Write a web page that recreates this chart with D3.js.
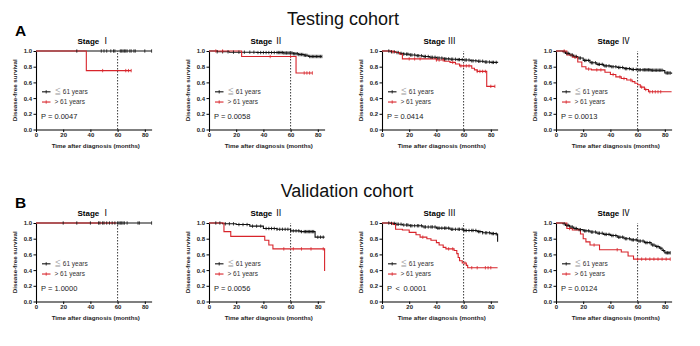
<!DOCTYPE html>
<html>
<head>
<meta charset="utf-8">
<script src="https://cdn.jsdelivr.net/npm/d3@7"></script>
<style>
  body { margin: 0; background: #fff; }
  svg { display: block; font-family: "Liberation Sans", Arial, sans-serif; }
</style>
</head>
<body>
<svg id="chart" width="700" height="346"></svg>
<script>
// ---- data ----
let cohorts = ["Testing cohort", "Validation cohort"];
let cohortLetters = ["A", "B"];
let stageNumerals = ["\u2160", "\u2161", "\u2162", "\u2163"];
let pTesting = ["P = 0.0047", "P = 0.0058", "P = 0.0414", "P = 0.0013"];
let pValidation = ["P = 1.0000", "P = 0.0056", "P \u2009<\u2009 0.0001", "P = 0.0124"];
let groups = ["\u2266 61 years", "> 61 years"];
let xTicks = [0, 20, 40, 60, 80];
let yTicks = [0, 0.2, 0.4, 0.6, 0.8, 1.0];
let cutoff = 60;

// steps: [month, survival from that month on]
let tI_low = [[0, 1], [85, 1]];
let tI_lowCens = [30, 48, 50, 52, 55, 57, 58, 62, 63, 64, 65, 66, 67, 69, 70, 72, 73, 80, 85];
let tI_high = [[0, 1], [37, 0.75], [70, 0.75]];
let tI_highCens = [49, 66, 68, 70];

let tII_low = [[0, 1], [6, 0.99], [15, 0.985], [35, 0.98], [55, 0.975], [62, 0.965], [66, 0.955], [70, 0.945], [73, 0.93], [83, 0.93]];
let tII_lowCens = [6, 10, 14, 18, 22, 26, 30, 33, 36, 38, 40, 42, 44, 46, 48, 50, 51, 52, 53, 54, 55, 56, 57, 58, 59, 60, 61, 62, 63, 64, 65, 66, 67, 68, 69, 70, 71, 72, 74, 75, 76, 77, 78, 79, 80, 81, 82, 83];
let tII_high = [[0, 1], [24, 0.93], [64, 0.72], [76, 0.72]];
let tII_highCens = [5, 10, 45, 60, 70, 72, 74, 76];

let tIII_low = [[0, 1], [6, 0.99], [10, 0.98], [13, 0.97], [16, 0.96], [20, 0.95], [25, 0.94], [30, 0.93], [35, 0.92], [40, 0.91], [45, 0.9], [50, 0.895], [55, 0.89], [60, 0.885], [65, 0.875], [70, 0.87], [75, 0.86], [80, 0.855], [85, 0.85]];
let tIII_lowCens = [5, 7, 9, 11, 12, 14, 16, 18, 19, 21, 22, 24, 26, 27, 29, 31, 32, 34, 36, 37, 39, 41, 42, 44, 46, 47, 49, 51, 52, 54, 56, 57, 59, 61, 62, 64, 66, 67, 69, 71, 72, 74, 76, 77, 79, 81, 82, 84];
let tIII_high = [[0, 1], [7, 0.99], [10, 0.98], [13, 0.96], [15, 0.9], [40, 0.885], [46, 0.87], [50, 0.855], [54, 0.835], [57, 0.81], [66, 0.78], [68, 0.76], [70, 0.74], [77, 0.55], [83, 0.55]];
let tIII_highCens = [8, 20, 24, 28, 40, 42, 45, 52, 58, 60, 62, 64, 70, 72, 74, 76, 80, 83];

let tIV_low = [[0, 1], [5, 0.99], [7, 0.97], [10, 0.95], [13, 0.93], [16, 0.91], [20, 0.88], [25, 0.85], [30, 0.83], [35, 0.81], [40, 0.8], [45, 0.79], [50, 0.775], [55, 0.765], [60, 0.76], [70, 0.755], [79, 0.75], [80, 0.72], [85, 0.71]];
let tIV_lowCens = [6, 8, 9, 11, 12, 14, 15, 17, 18, 21, 22, 24, 26, 27, 29, 31, 32, 34, 36, 37, 39, 41, 42, 44, 46, 47, 49, 51, 52, 54, 56, 57, 59, 61, 62, 64, 65, 66, 67, 68, 69, 70, 71, 72, 73, 74, 75, 76, 77, 78, 81, 82, 83, 84];
let tIV_high = [[0, 1], [8, 0.95], [12, 0.92], [16, 0.86], [19, 0.8], [22, 0.77], [26, 0.76], [36, 0.73], [40, 0.7], [44, 0.67], [48, 0.65], [52, 0.63], [56, 0.61], [58, 0.59], [60, 0.57], [62, 0.54], [65, 0.51], [68, 0.48], [85, 0.48]];
let tIV_highCens = [6, 14, 24, 30, 33, 42, 47, 50, 55, 63, 66, 69, 71, 73, 75, 77];

let vI_low = [[0, 1], [85, 1]];
let vI_lowCens = [20, 30, 40, 46, 47, 49, 50, 52, 54, 56, 58, 60, 61, 62, 63, 64, 65, 67, 75, 76, 85];
let vI_high = [[0, 1], [59, 1]];
let vI_highCens = [];

let vII_low = [[0, 1], [10, 0.99], [20, 0.98], [30, 0.96], [40, 0.93], [50, 0.92], [60, 0.9], [67, 0.89], [78, 0.82], [85, 0.82]];
let vII_lowCens = [5, 8, 12, 15, 18, 22, 25, 28, 32, 35, 38, 42, 44, 46, 48, 50, 52, 54, 56, 58, 60, 62, 64, 66, 68, 70, 71, 72, 73, 74, 75, 76, 77, 80, 82, 84];
let vII_high = [[0, 1], [11, 0.89], [16, 0.83], [41, 0.78], [44, 0.72], [47, 0.67], [85, 0.39]];
let vII_highCens = [55, 62, 68, 75, 84];

let vIII_low = [[0, 1], [6, 0.995], [10, 0.985], [15, 0.975], [20, 0.965], [30, 0.95], [40, 0.935], [50, 0.92], [60, 0.905], [70, 0.89], [74, 0.875], [80, 0.865], [84, 0.86], [85, 0.76]];
let vIII_lowCens = [5, 7, 9, 11, 12, 14, 16, 18, 19, 21, 22, 24, 26, 27, 29, 31, 32, 34, 36, 37, 39, 41, 42, 44, 46, 47, 49, 51, 52, 54, 56, 57, 59, 61, 62, 64, 66, 67, 69, 71, 72, 74, 76, 77, 79, 81, 82, 84];
let vIII_high = [[0, 1], [8, 0.98], [10, 0.92], [15, 0.91], [20, 0.88], [25, 0.85], [28, 0.82], [33, 0.8], [36, 0.78], [40, 0.75], [42, 0.72], [45, 0.69], [47, 0.67], [53, 0.65], [55, 0.61], [56, 0.56], [57, 0.52], [59, 0.49], [62, 0.46], [63, 0.43], [85, 0.43]];
let vIII_highCens = [30, 49, 52, 61, 66, 70, 76, 78, 80];

let vIV_low = [[0, 1], [5, 0.99], [7, 0.97], [10, 0.95], [13, 0.93], [16, 0.915], [20, 0.9], [25, 0.885], [30, 0.87], [35, 0.855], [40, 0.84], [45, 0.82], [50, 0.8], [55, 0.785], [60, 0.77], [65, 0.75], [70, 0.72], [73, 0.7], [76, 0.68], [78, 0.65], [80, 0.62], [84, 0.62]];
let vIV_lowCens = [6, 8, 9, 11, 12, 14, 15, 17, 18, 21, 22, 24, 26, 27, 29, 31, 32, 34, 36, 37, 39, 41, 42, 44, 46, 47, 49, 51, 52, 54, 56, 57, 59, 61, 62, 64, 66, 67, 69, 71, 72, 74, 75, 77, 79, 81, 82, 83, 84];
let vIV_high = [[0, 1], [8, 0.93], [12, 0.91], [18, 0.86], [20, 0.8], [22, 0.76], [25, 0.72], [32, 0.66], [48, 0.63], [53, 0.58], [57, 0.54], [84, 0.54]];
let vIV_highCens = [10, 28, 45, 60, 63, 66, 69, 72, 75, 78, 81, 84];

let panelsData = [
  [[tI_low, tI_lowCens, tI_high, tI_highCens], [tII_low, tII_lowCens, tII_high, tII_highCens],
   [tIII_low, tIII_lowCens, tIII_high, tIII_highCens], [tIV_low, tIV_lowCens, tIV_high, tIV_highCens]],
  [[vI_low, vI_lowCens, vI_high, vI_highCens], [vII_low, vII_lowCens, vII_high, vII_highCens],
   [vIII_low, vIII_lowCens, vIII_high, vIII_highCens], [vIV_low, vIV_lowCens, vIV_high, vIV_highCens]]
];
let pValues = [pTesting, pValidation];

// ---- layout ----
let colLeft = [36, 209, 382, 556],
    rowTop = [51, 223],
    plotW = 115.6,
    plotH = 78.5,
    red = "#d8242b",
    black = "#111",
    cjk = "'Noto Sans CJK SC', 'DejaVu Serif', serif";

let svg = d3.select("#chart");

let x = d3.scaleLinear().domain([0, 85]).range([0, plotW]);
let y = d3.scaleLinear().domain([0, 1]).range([plotH, 0]);

let stepLine = d3.line()
  .x(d => x(d[0]))
  .y(d => y(d[1]))
  .curve(d3.curveStepAfter);

function survAt(steps, t) {
  let s = steps[0][1];
  steps.forEach(p => { if (p[0] <= t) s = p[1]; });
  return s;
}

// cohort headings
cohorts.forEach((c, r) => {
  svg.append("text")
    .attr("x", r == 0 ? 343 : 347)
    .attr("y", r == 0 ? 25 : 197)
    .attr("text-anchor", "middle")
    .attr("font-size", 18)
    .attr("fill", "#111")
    .text(c);
  svg.append("text")
    .attr("x", 15)
    .attr("y", r == 0 ? 36 : 208)
    .attr("font-size", 15.5)
    .attr("font-weight", "bold")
    .attr("fill", "#000")
    .text(cohortLetters[r]);
});

panelsData.forEach((row, r) => {
  row.forEach((pd, c) => {
    let g = svg.append("g")
      .attr("transform", `translate(${colLeft[c]},${rowTop[r]})`);

    // title
    let title = g.append("text")
      .attr("x", plotW / 2)
      .attr("y", -7)
      .attr("text-anchor", "middle")
      .attr("font-size", 8)
      .attr("font-weight", "bold");
    title.append("tspan").text("Stage ");
    title.append("tspan")
      .attr("font-family", cjk)
      .attr("font-weight", "normal")
      .attr("font-size", 8.5)
      .text(stageNumerals[c]);

    // axes
    let xAxis = g.append("g")
      .attr("transform", `translate(0,${plotH})`)
      .call(d3.axisBottom(x).tickValues(xTicks).tickSize(2.5).tickSizeOuter(0));
    let yAxis = g.append("g")
      .call(d3.axisLeft(y).tickValues(yTicks).tickFormat(d3.format(".1f")).tickSize(2.5).tickSizeOuter(0));
    [xAxis, yAxis].forEach(a => {
      a.select(".domain").attr("stroke", "#000").attr("stroke-width", 1.1);
      a.selectAll(".tick line").attr("stroke", "#000").attr("stroke-width", 1);
      a.selectAll(".tick text")
        .attr("font-size", 6)
        .attr("font-weight", "bold")
        .attr("font-family", "'Liberation Sans', Arial, sans-serif")
        .attr("fill", "#222");
    });
    xAxis.selectAll(".tick text").attr("dy", "0.5em").attr("y", 4);
    yAxis.selectAll(".tick text").attr("x", -4);

    g.append("text")
      .attr("x", plotW / 2 + 2)
      .attr("y", plotH + 18.5)
      .attr("text-anchor", "middle")
      .attr("font-size", 6.2)
      .attr("font-weight", "bold")
      .attr("fill", "#222")
      .text("Time after diagnosis (months)");

    g.append("text")
      .attr("transform", `translate(-19,${plotH / 2}) rotate(-90)`)
      .attr("text-anchor", "middle")
      .attr("font-size", 6.2)
      .attr("font-weight", "bold")
      .attr("fill", "#222")
      .text("Disease-free survival");

    // dotted line at 60 months
    g.append("line")
      .attr("x1", x(cutoff)).attr("x2", x(cutoff))
      .attr("y1", y(0)).attr("y2", y(1))
      .attr("stroke", "#222")
      .attr("stroke-width", 0.9)
      .attr("stroke-dasharray", "1.5,1.5");

    let [low, lowCens, high, highCens] = pd;

    // curves: black first, red on top
    g.append("path").datum(low)
      .attr("d", stepLine)
      .attr("fill", "none")
      .attr("stroke", black)
      .attr("stroke-width", 1.1);
    g.append("path").datum(high)
      .attr("d", stepLine)
      .attr("fill", "none")
      .attr("stroke", red)
      .attr("stroke-width", 1.1);

    // censor marks
    g.selectAll(".cl").data(lowCens).enter().append("line")
      .attr("x1", d => x(d)).attr("x2", d => x(d))
      .attr("y1", d => y(survAt(low, d)) - 1.7)
      .attr("y2", d => y(survAt(low, d)) + 1.7)
      .attr("stroke", black)
      .attr("stroke-width", 0.8);
    g.selectAll(".ch").data(highCens).enter().append("line")
      .attr("x1", d => x(d)).attr("x2", d => x(d))
      .attr("y1", d => y(survAt(high, d)) - 1.7)
      .attr("y2", d => y(survAt(high, d)) + 1.7)
      .attr("stroke", red)
      .attr("stroke-width", 0.8);

    // legend
    let legY = [y(0.48), y(0.35)];
    [black, red].forEach((col, i) => {
      g.append("line")
        .attr("x1", 6).attr("x2", 14.5)
        .attr("y1", legY[i]).attr("y2", legY[i])
        .attr("stroke", col).attr("stroke-width", 1.1);
      g.append("line")
        .attr("x1", 10.2).attr("x2", 10.2)
        .attr("y1", legY[i] - 1.7).attr("y2", legY[i] + 1.7)
        .attr("stroke", col).attr("stroke-width", 0.8);
      let t = g.append("text")
        .attr("x", 18.5)
        .attr("y", legY[i] + 2.2)
        .attr("font-size", 6.5)
        .attr("fill", "#333");
      if (i == 0) {
        t.append("tspan").attr("fill", "#999").attr("font-family", cjk).text(groups[0].slice(0, 1));
        t.append("tspan").text(groups[0].slice(1));
      } else {
        t.text(groups[1]);
      }
    });

    g.append("text")
      .attr("x", 5)
      .attr("y", y(0.13))
      .attr("font-size", 7.5)
      .attr("fill", "#222")
      .text(pValues[r][c]);
  });
});
</script>
</body>
</html>
